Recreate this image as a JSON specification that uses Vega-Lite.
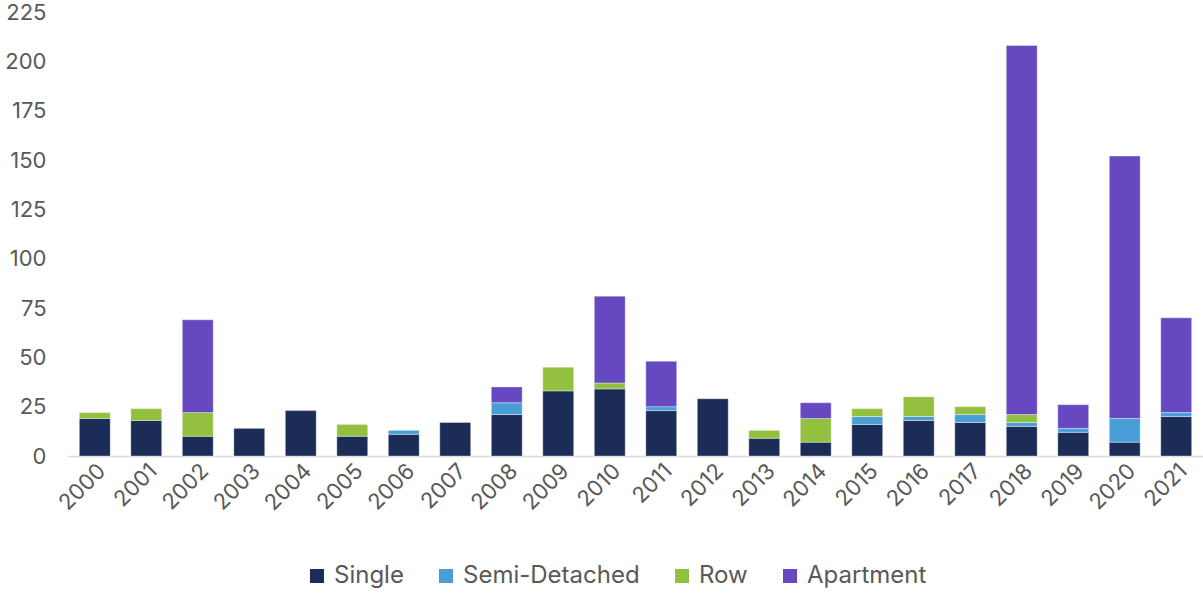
{
  "$schema": "https://vega.github.io/schema/vega-lite/v6.json",
  "width": 1135,
  "height": 444,
  "autosize": {"type": "none"},
  "padding": {"left": 68, "right": 0, "top": 12, "bottom": 137},
  "background": "#ffffff",
  "config": {
    "view": {"stroke": null},
    "font": "Inter"
  },
  "data": {
    "values": [
      {"year": "2000", "type": "Single", "k": 1, "v": 19},
      {"year": "2000", "type": "Row", "k": 3, "v": 3},
      {"year": "2001", "type": "Single", "k": 1, "v": 18},
      {"year": "2001", "type": "Row", "k": 3, "v": 6},
      {"year": "2002", "type": "Single", "k": 1, "v": 10},
      {"year": "2002", "type": "Row", "k": 3, "v": 12},
      {"year": "2002", "type": "Apartment", "k": 4, "v": 47},
      {"year": "2003", "type": "Single", "k": 1, "v": 14},
      {"year": "2004", "type": "Single", "k": 1, "v": 23},
      {"year": "2005", "type": "Single", "k": 1, "v": 10},
      {"year": "2005", "type": "Row", "k": 3, "v": 6},
      {"year": "2006", "type": "Single", "k": 1, "v": 11},
      {"year": "2006", "type": "Semi-Detached", "k": 2, "v": 2},
      {"year": "2007", "type": "Single", "k": 1, "v": 17},
      {"year": "2008", "type": "Single", "k": 1, "v": 21},
      {"year": "2008", "type": "Semi-Detached", "k": 2, "v": 6},
      {"year": "2008", "type": "Apartment", "k": 4, "v": 8},
      {"year": "2009", "type": "Single", "k": 1, "v": 33},
      {"year": "2009", "type": "Row", "k": 3, "v": 12},
      {"year": "2010", "type": "Single", "k": 1, "v": 34},
      {"year": "2010", "type": "Row", "k": 3, "v": 3},
      {"year": "2010", "type": "Apartment", "k": 4, "v": 44},
      {"year": "2011", "type": "Single", "k": 1, "v": 23},
      {"year": "2011", "type": "Semi-Detached", "k": 2, "v": 2},
      {"year": "2011", "type": "Apartment", "k": 4, "v": 23},
      {"year": "2012", "type": "Single", "k": 1, "v": 29},
      {"year": "2013", "type": "Single", "k": 1, "v": 9},
      {"year": "2013", "type": "Row", "k": 3, "v": 4},
      {"year": "2014", "type": "Single", "k": 1, "v": 7},
      {"year": "2014", "type": "Row", "k": 3, "v": 12},
      {"year": "2014", "type": "Apartment", "k": 4, "v": 8},
      {"year": "2015", "type": "Single", "k": 1, "v": 16},
      {"year": "2015", "type": "Semi-Detached", "k": 2, "v": 4},
      {"year": "2015", "type": "Row", "k": 3, "v": 4},
      {"year": "2016", "type": "Single", "k": 1, "v": 18},
      {"year": "2016", "type": "Semi-Detached", "k": 2, "v": 2},
      {"year": "2016", "type": "Row", "k": 3, "v": 10},
      {"year": "2017", "type": "Single", "k": 1, "v": 17},
      {"year": "2017", "type": "Semi-Detached", "k": 2, "v": 4},
      {"year": "2017", "type": "Row", "k": 3, "v": 4},
      {"year": "2018", "type": "Single", "k": 1, "v": 15},
      {"year": "2018", "type": "Semi-Detached", "k": 2, "v": 2},
      {"year": "2018", "type": "Row", "k": 3, "v": 4},
      {"year": "2018", "type": "Apartment", "k": 4, "v": 187},
      {"year": "2019", "type": "Single", "k": 1, "v": 12},
      {"year": "2019", "type": "Semi-Detached", "k": 2, "v": 2},
      {"year": "2019", "type": "Apartment", "k": 4, "v": 12},
      {"year": "2020", "type": "Single", "k": 1, "v": 7},
      {"year": "2020", "type": "Semi-Detached", "k": 2, "v": 12},
      {"year": "2020", "type": "Apartment", "k": 4, "v": 133},
      {"year": "2021", "type": "Single", "k": 1, "v": 20},
      {"year": "2021", "type": "Semi-Detached", "k": 2, "v": 2},
      {"year": "2021", "type": "Apartment", "k": 4, "v": 48}
    ]
  },
  "mark": {"type": "bar", "stroke": "#ffffff", "strokeWidth": 0.6, "strokeOpacity": 0.6},
  "encoding": {
    "x": {
      "field": "year",
      "type": "nominal",
      "title": null,
      "scale": {"paddingInner": 0.4, "paddingOuter": 0.22},
      "axis": {
        "labelAngle": -45,
        "labelFontSize": 22,
        "labelColor": "#595959",
        "labelPadding": 4,
        "ticks": false,
        "domainColor": "#d9d9d9",
        "domainWidth": 1.5
      }
    },
    "y": {
      "field": "v",
      "type": "quantitative",
      "aggregate": "sum",
      "stack": "zero",
      "title": null,
      "scale": {"domain": [0, 225], "nice": false},
      "axis": {
        "values": [0, 25, 50, 75, 100, 125, 150, 175, 200, 225],
        "grid": false,
        "domain": false,
        "ticks": false,
        "labelFontSize": 22,
        "labelColor": "#595959",
        "labelPadding": 22
      }
    },
    "color": {
      "field": "type",
      "type": "nominal",
      "sort": ["Single", "Semi-Detached", "Row", "Apartment"],
      "scale": {
        "domain": ["Single", "Semi-Detached", "Row", "Apartment"],
        "range": ["#1b2d57", "#4a9ed8", "#93c03e", "#6649c0"]
      },
      "legend": {
        "title": null,
        "orient": "none",
        "legendX": 237,
        "legendY": 552,
        "direction": "horizontal",
        "symbolType": "square",
        "symbolSize": 196,
        "symbolStrokeWidth": 0,
        "labelFontSize": 24,
        "labelLimit": 500,
        "labelColor": "#595959",
        "columnPadding": 30,
        "labelOffset": 5
      }
    },
    "order": {"field": "k", "type": "quantitative", "sort": "ascending"}
  }
}
